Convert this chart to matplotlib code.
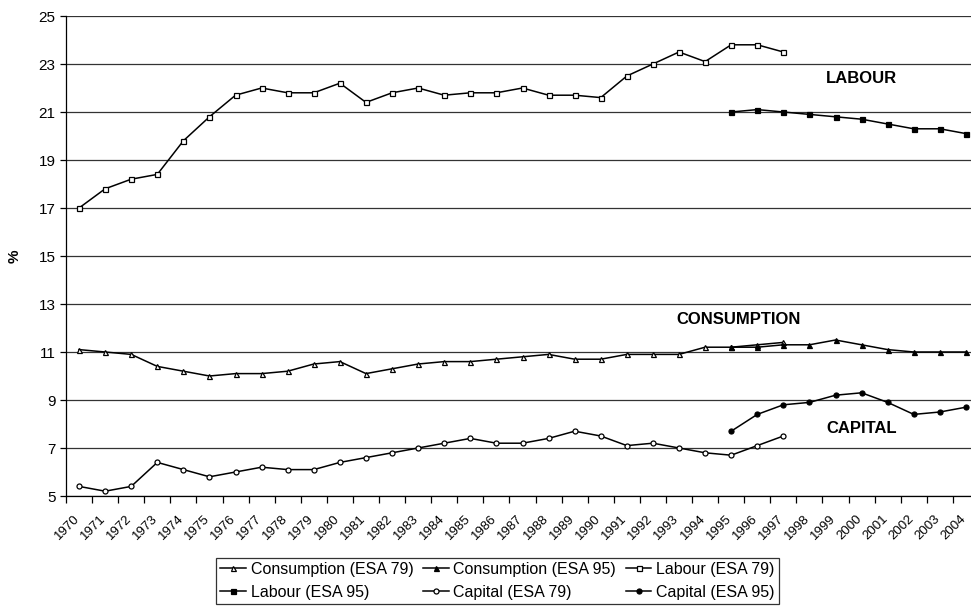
import matplotlib
matplotlib.use('Agg')
import matplotlib.pyplot as plt
import matplotlib.transforms as mtransforms
import numpy as np

plt.rcParams['font.family'] = ['Liberation Sans', 'DejaVu Sans']

years = list(range(1970, 2005))
years_79 = years[:28]          # 1970-1997
years_95 = years[25:]          # 1995-2004

consumption_79 = [11.1, 11.0, 10.9, 10.4, 10.2, 10.0, 10.1, 10.1, 10.2, 10.5, 10.6, 10.1,
                  10.3, 10.5, 10.6, 10.6, 10.7, 10.8, 10.9, 10.7, 10.7, 10.9, 10.9, 10.9,
                  11.2, 11.2, 11.3, 11.4]
consumption_95 = [11.2, 11.2, 11.3, 11.3, 11.5, 11.3, 11.1, 11.0, 11.0, 11.0]

labour_79 = [17.0, 17.8, 18.2, 18.4, 19.8, 20.8, 21.7, 22.0, 21.8, 21.8, 22.2, 21.4,
             21.8, 22.0, 21.7, 21.8, 21.8, 22.0, 21.7, 21.7, 21.6, 22.5, 23.0, 23.5,
             23.1, 23.8, 23.8, 23.5]
labour_95 = [21.0, 21.1, 21.0, 20.9, 20.8, 20.7, 20.5, 20.3, 20.3, 20.1]

capital_79 = [5.4, 5.2, 5.4, 6.4, 6.1, 5.8, 6.0, 6.2, 6.1, 6.1, 6.4, 6.6,
              6.8, 7.0, 7.2, 7.4, 7.2, 7.2, 7.4, 7.7, 7.5, 7.1, 7.2, 7.0,
              6.8, 6.7, 7.1, 7.5]
capital_95 = [7.7, 8.4, 8.8, 8.9, 9.2, 9.3, 8.9, 8.4, 8.5, 8.7]

fig = plt.figure(figsize=(9.71, 6.06), dpi=100)
ax = fig.add_axes([66 / 971, 110 / 606, 913 / 971, 480 / 606])

x79 = [years.index(y) for y in years_79]
x95 = [years.index(y) for y in years_95]

style = dict(color='black', lw=1.1, markersize=3.6, markeredgewidth=0.9, markeredgecolor='black')
h1, = ax.plot(x79, consumption_79, marker='^', markerfacecolor='white', label='Consumption (ESA 79)', **style)
h2, = ax.plot(x95, consumption_95, marker='^', markerfacecolor='black', label='Consumption (ESA 95)', **style)
h3, = ax.plot(x79, labour_79, marker='s', markerfacecolor='white', label='Labour (ESA 79)', **style)
h4, = ax.plot(x95, labour_95, marker='s', markerfacecolor='black', label='Labour (ESA 95)', **style)
h5, = ax.plot(x79, capital_79, marker='o', markerfacecolor='white', label='Capital (ESA 79)', **style)
h6, = ax.plot(x95, capital_95, marker='o', markerfacecolor='black', label='Capital (ESA 95)', **style)

ax.set_xlim(-0.5, len(years) - 0.5)
ax.set_ylim(5, 25)
ax.set_yticks(np.arange(5, 26, 2))
ax.yaxis.grid(True, color='#333333', lw=0.9)
ax.set_axisbelow(True)
ax.tick_params(axis='y', labelsize=11, length=4, width=0.9)

ax.set_xticks(range(len(years)))
ax.set_xticklabels([str(y) for y in years], rotation=45, ha='right',
                   rotation_mode='anchor', fontsize=9.5)
ax.set_xticks(np.arange(-0.5, len(years), 1), minor=True)
ax.tick_params(axis='x', which='major', length=0, pad=12)
ax.tick_params(axis='x', which='minor', length=5, width=0.9)
shift = mtransforms.ScaledTranslation(-6 / 100, 0, fig.dpi_scale_trans)
for lbl in ax.get_xticklabels():
    lbl.set_transform(lbl.get_transform() + shift)

for s in ['top', 'right']:
    ax.spines[s].set_visible(False)
ax.spines['left'].set_linewidth(0.9)
ax.spines['bottom'].set_linewidth(0.9)

ax.set_ylabel('%', fontweight='bold', fontsize=11, labelpad=12)

ax.text(30, 22.4, 'LABOUR', fontsize=12, fontweight='bold', ha='center', va='center')
ax.text(25.3, 12.35, 'CONSUMPTION', fontsize=12, fontweight='bold', ha='center', va='center')
ax.text(30, 7.8, 'CAPITAL', fontsize=12, fontweight='bold', ha='center', va='center')

order = [h1, h4, h2, h5, h3, h6]
leg = fig.legend(order, [h.get_label() for h in order],
                 ncol=3, loc='lower center', bbox_to_anchor=(0.5 + 12 / 971, 2 / 606),
                 borderaxespad=0, fontsize=11.5, handlelength=1.6, handletextpad=0.3,
                 columnspacing=0.6, labelspacing=0.5, borderpad=0.25,
                 fancybox=False, frameon=True, edgecolor='black')
leg.get_frame().set_linewidth(0.9)

fig.savefig('out.png', dpi=100)
